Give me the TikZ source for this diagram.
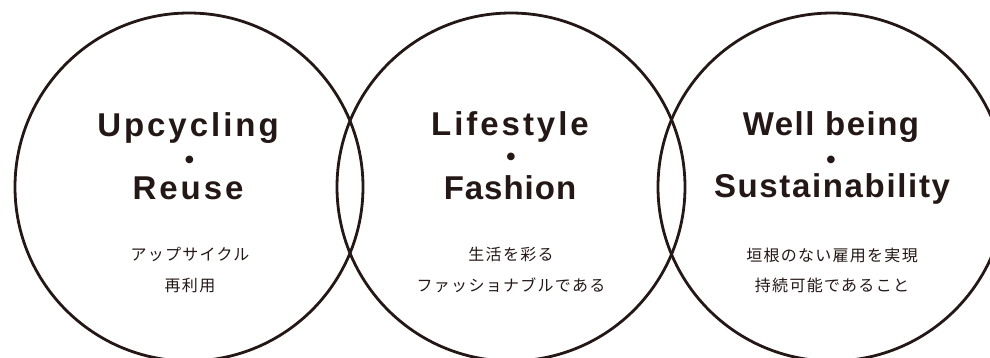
\documentclass[tikz,border=0pt]{standalone}
\usepackage{fontspec}
\setmainfont{Liberation Sans}
\newfontfamily\titlefont[LetterSpace=9]{Liberation Sans}
\newfontfamily\jpfont[LetterSpace=8]{Noto Sans CJK JP}
\newfontfamily\symfont{DejaVu Sans}
\definecolor{ink}{HTML}{231815}

\begin{document}
\begin{tikzpicture}[x=1pt, y=-1pt,
        ring/.style={draw=ink, line width=2.8pt, circle, minimum size=348pt, inner sep=0pt},
        title/.style={anchor=base, text=ink, font=\titlefont\bfseries\fontsize{33}{33}\selectfont},
        sep/.style={text=ink, inner sep=0pt, font=\symfont\fontsize{10}{10}\selectfont},
        note/.style={text=ink, inner sep=0pt, font=\jpfont\fontsize{16}{16}\selectfont}]
        \useasboundingbox (0,0) rectangle (990,357);
        \clip (0,0) rectangle (990,357);

        % the three circles
        \node[ring] (reuse) at (189,187) {};
        \node[ring] (fashion) at (511,187) {};
        \node[ring] (sustain) at (832,187) {};

        % left circle
        \node[title] (upcycling) at (188,136) {Upcycling};
        \node[sep] (dotA) at (189.5,160) {●};
        \node[title] (reuseT) at (188,199) {Reuse};
        \node[note] (upcyclingJ) at (190,254) {アップサイクル};
        \node[note] (reuseJ) at (190,285) {再利用};

        % middle circle
        \node[title] (lifestyle) at (510,135) {Lifestyle};
        \node[sep] (dotB) at (511,157) {●};
        \node[title] (fashionT) at (510,199) {\addfontfeatures{LetterSpace=3}Fashion};
        \node[note] (lifeJ) at (511,254) {生活を彩る};
        \node[note] (fashionJ) at (511,285) {ファッショナブルである};

        % right circle
        \node[title] (wellbeing) at (831,135) {\addfontfeatures{LetterSpace=4.5}Well being};
        \node[sep] (dotC) at (831,160) {●};
        \node[title] (sustainT) at (832,197) {\addfontfeatures{LetterSpace=5}Sustainability};
        \node[note] (wellJ) at (832,255) {垣根のない雇用を実現};
        \node[note] (sustainJ) at (832,285) {持続可能であること};
\end{tikzpicture}
\end{document}
